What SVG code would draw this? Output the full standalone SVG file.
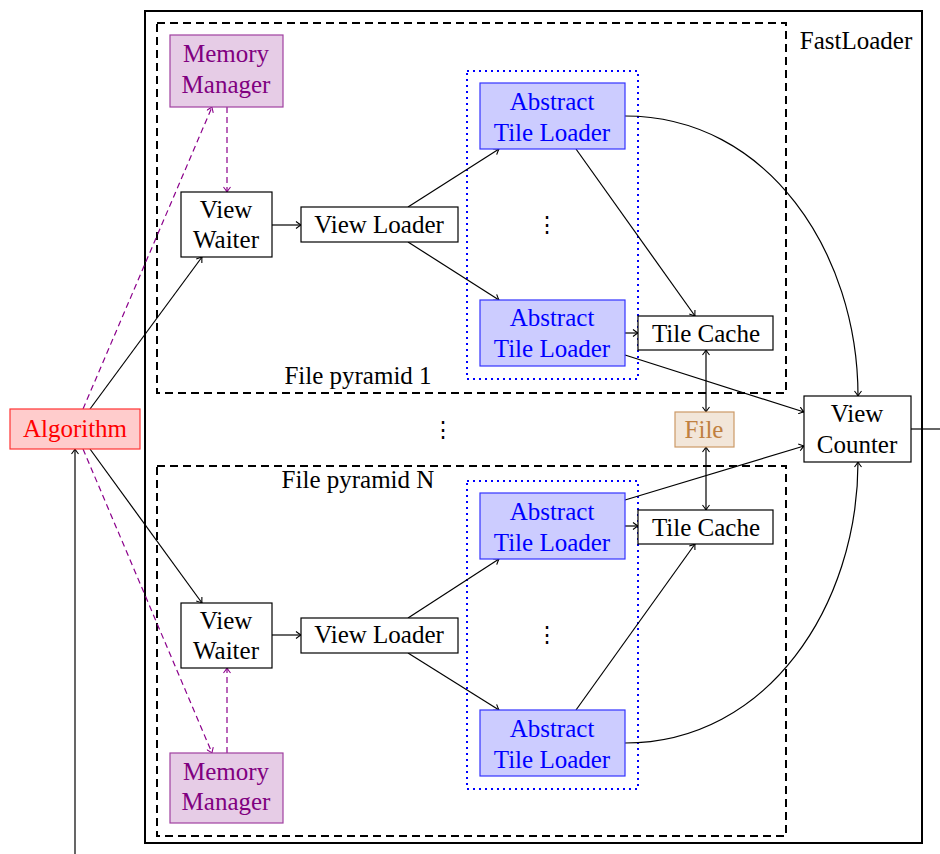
<svg xmlns="http://www.w3.org/2000/svg" width="940" height="854" viewBox="0 0 940 854" font-family="'Liberation Serif', 'Times New Roman', 'DejaVu Serif', serif">
  <defs>
    <style>
      text { font-family: 'Liberation Serif', 'Times New Roman', 'DejaVu Serif', serif; font-size: 25px; text-anchor: middle; }
      .plain { fill: #ffffff; stroke: #000000; stroke-width: 1.2; }
      .mem { fill: #e6cce6; stroke: #a040a0; stroke-width: 1.2; }
      .memt { fill: #800080; }
      .atl { fill: #ccccff; stroke: #3333ff; stroke-width: 1.2; }
      .atlt { fill: #0000ff; }
      .alg { fill: #ffcccc; stroke: #ff3333; stroke-width: 1.2; }
      .algt { fill: #ff0000; }
      .file { fill: #f2e6d9; stroke: #cc9966; stroke-width: 1.2; }
      .filet { fill: #bf8040; }
      .pyr { fill: none; stroke: #000000; stroke-width: 2; stroke-dasharray: 8 5; }
      .grp { fill: none; stroke: #0000ff; stroke-width: 2; stroke-dasharray: 2 4; }
      .edge { fill: none; stroke: #000000; stroke-width: 1.2; marker-end: url(#arr); }
      .both { marker-start: url(#arr); }
      .dash { fill: none; stroke: #8b008b; stroke-width: 1.2; stroke-dasharray: 6 4; marker-end: url(#arrp); }
      .dots { font-family: 'DejaVu Serif', serif; font-size: 22px; }
    </style>
    <marker id="arr" viewBox="-6 -4 7 8" refX="0" refY="0" markerWidth="7" markerHeight="8" markerUnits="userSpaceOnUse" orient="auto-start-reverse">
      <path d="M -5 -3.5 Q -1.5 -0.8 0 0 Q -1.5 0.8 -5 3.5" fill="none" stroke="#000000" stroke-width="1.1"/>
    </marker>
    <marker id="arrp" viewBox="-6 -4 7 8" refX="0" refY="0" markerWidth="7" markerHeight="8" markerUnits="userSpaceOnUse" orient="auto-start-reverse">
      <path d="M -5 -3.5 Q -1.5 -0.8 0 0 Q -1.5 0.8 -5 3.5" fill="none" stroke="#8b008b" stroke-width="1.1"/>
    </marker>
  </defs>

  <!-- FastLoader frame -->
  <g id="fastloader">
    <rect x="145" y="11" width="777" height="832" fill="none" stroke="#000000" stroke-width="2"/>
    <text x="856" y="49">FastLoader</text>
  </g>

  <!-- pyramid frames -->
  <g id="pyramid1">
    <rect class="pyr" x="157" y="23" width="629" height="370"/>
    <text x="358" y="384">File pyramid 1</text>
  </g>
  <g id="pyramidN">
    <rect class="pyr" x="157" y="466" width="629" height="370"/>
    <text x="358" y="488">File pyramid N</text>
  </g>
  <g id="loaders1">
    <rect class="grp" x="467" y="71" width="171" height="308"/>
  </g>
  <g id="loadersN">
    <rect class="grp" x="467" y="481" width="171" height="308"/>
  </g>

  <!-- connectors -->
  <g id="connectors">
    <path class="edge" d="M 90 409 L 202 257"/>
    <path class="dash" d="M 83 409 L 212 107"/>
    <path class="dash" d="M 227 107 L 227 192"/>
    <path class="edge" d="M 272 225 L 301 225"/>
    <path class="edge" d="M 408 207 L 499 149"/>
    <path class="edge" d="M 408 242 L 499 300"/>
    <path class="edge" d="M 576 149 L 695 316"/>
    <path class="edge" d="M 625 333 L 638 333"/>
    <path class="edge" d="M 625 355 L 804 412"/>
    <path class="edge" d="M 625 116 C 768 116 858 253 858 396"/>
    <path class="edge both" d="M 706 350 L 706 412"/>
    <path class="edge both" d="M 706 510 L 706 447"/>
    <path class="edge" d="M 625 500 L 804 446"/>
    <path class="edge" d="M 625 526 L 638 526"/>
    <path class="edge" d="M 576 710 L 695 544"/>
    <path class="edge" d="M 625 743 C 768 743 858 605 858 462"/>
    <path class="edge" d="M 90 449 L 202 603"/>
    <path class="dash" d="M 83 449 L 212 753"/>
    <path class="dash" d="M 227 753 L 227 668"/>
    <path class="edge" d="M 272 635 L 301 635"/>
    <path class="edge" d="M 408 618 L 499 559"/>
    <path class="edge" d="M 408 653 L 499 710"/>
    <path class="edge" d="M 75 854 L 75 449"/>
    <path d="M 911 429 L 940 429" fill="none" stroke="#000000" stroke-width="1.2"/>
  </g>

  <!-- nodes -->
  <g id="algorithm">
    <rect class="alg" x="10" y="409" width="130" height="40"/>
    <text class="algt" x="75" y="437">Algorithm</text>
  </g>

  <g id="memory1">
    <rect class="mem" x="170" y="35" width="113" height="72"/>
    <text class="memt" x="226" y="62">Memory</text>
    <text class="memt" x="226" y="93">Manager</text>
  </g>
  <g id="waiter1">
    <rect class="plain" x="181" y="192" width="91" height="65"/>
    <text x="226" y="218">View</text>
    <text x="226" y="248">Waiter</text>
  </g>
  <g id="viewloader1">
    <rect class="plain" x="301" y="207" width="157" height="35"/>
    <text x="379" y="233">View Loader</text>
  </g>
  <g id="atl1a">
    <rect class="atl" x="480" y="83" width="145" height="66"/>
    <text class="atlt" x="552" y="110">Abstract</text>
    <text class="atlt" x="552" y="141">Tile Loader</text>
  </g>
  <g id="dots1">
    <text class="dots" x="547" y="232">⋮</text>
  </g>
  <g id="atl1b">
    <rect class="atl" x="480" y="300" width="145" height="66"/>
    <text class="atlt" x="552" y="326">Abstract</text>
    <text class="atlt" x="552" y="357">Tile Loader</text>
  </g>
  <g id="cache1">
    <rect class="plain" x="638" y="316" width="135" height="34"/>
    <text x="706" y="342">Tile Cache</text>
  </g>

  <g id="middots">
    <text class="dots" x="443" y="437">⋮</text>
  </g>
  <g id="file">
    <rect class="file" x="675" y="412" width="59" height="35"/>
    <text class="filet" x="704" y="438">File</text>
  </g>
  <g id="counter">
    <rect class="plain" x="804" y="396" width="107" height="66"/>
    <text x="857" y="422">View</text>
    <text x="857" y="453">Counter</text>
  </g>

  <g id="atlNa">
    <rect class="atl" x="480" y="493" width="145" height="66"/>
    <text class="atlt" x="552" y="520">Abstract</text>
    <text class="atlt" x="552" y="551">Tile Loader</text>
  </g>
  <g id="cacheN">
    <rect class="plain" x="638" y="510" width="135" height="34"/>
    <text x="706" y="536">Tile Cache</text>
  </g>
  <g id="dotsN">
    <text class="dots" x="547" y="642">⋮</text>
  </g>
  <g id="atlNb">
    <rect class="atl" x="480" y="710" width="145" height="66"/>
    <text class="atlt" x="552" y="737">Abstract</text>
    <text class="atlt" x="552" y="768">Tile Loader</text>
  </g>
  <g id="waiterN">
    <rect class="plain" x="181" y="603" width="91" height="65"/>
    <text x="226" y="629">View</text>
    <text x="226" y="659">Waiter</text>
  </g>
  <g id="viewloaderN">
    <rect class="plain" x="301" y="618" width="157" height="35"/>
    <text x="379" y="643">View Loader</text>
  </g>
  <g id="memoryN">
    <rect class="mem" x="170" y="753" width="113" height="70"/>
    <text class="memt" x="226" y="780">Memory</text>
    <text class="memt" x="226" y="810">Manager</text>
  </g>
</svg>
